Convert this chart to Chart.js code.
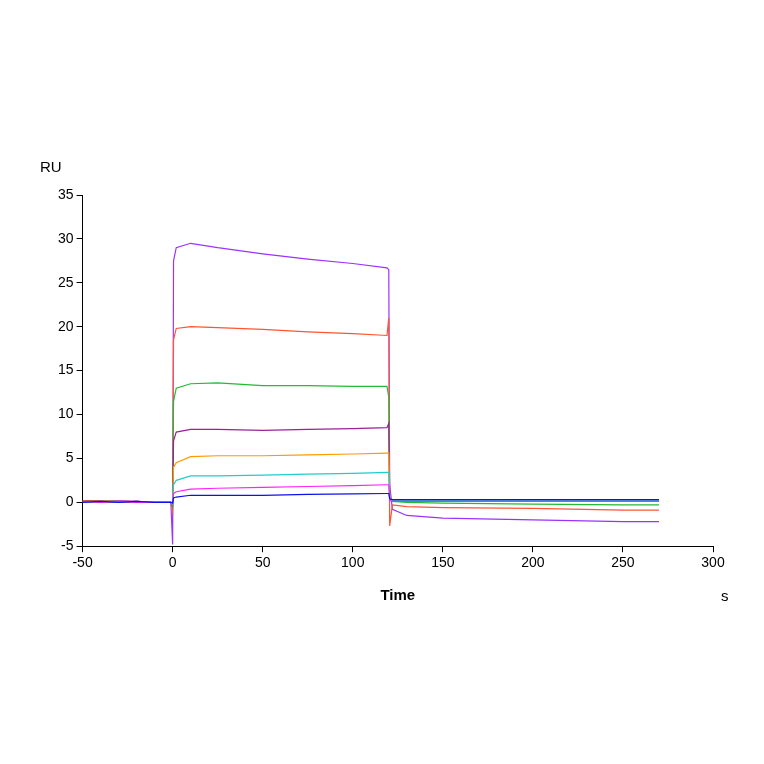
<!DOCTYPE html>
<html>
<head>
<script src="https://cdn.jsdelivr.net/npm/chart.js@4"></script>
<style>body{margin:0;background:#fff}#wrap{width:764px;height:764px}</style>
</head>
<body>
<div id="wrap"><canvas id="c"></canvas></div>
<script>
const times = [-50,-40,-30,-20,-10,-1,0,0.5,2,10,25,50,75,100,119,120,120.5,122,130,150,200,250,270];
const purple  = [0.2,0.1,0.2,0.1,0,0,-4.8,27.5,29,29.5,29.0,28.3,27.7,27.2,26.7,26.5,2,-0.8,-1.5,-1.8,-2.0,-2.2,-2.2];
const red     = [0.2,0.2,0.1,0.1,0,0,-1,18.5,19.8,20.0,19.9,19.7,19.4,19.2,19.0,21,-2.7,-0.3,-0.5,-0.6,-0.7,-0.9,-0.9];
const green   = [0.1,0.1,0.1,0,0,0,-0.5,11.5,13.0,13.5,13.6,13.3,13.3,13.2,13.2,12,0.5,0.1,0,-0.1,-0.2,-0.3,-0.3];
const violet  = [0.1,0.1,0,0.1,0,0,-0.3,7,8.0,8.3,8.3,8.2,8.3,8.4,8.5,9,0.3,0.2,0.2,0.2,0.2,0.2,0.2];
const orange  = [0.1,0,0.1,0,0,0,-0.2,4,4.5,5.2,5.3,5.3,5.4,5.5,5.6,5.6,0.4,0.3,0.3,0.3,0.3,0.3,0.3];
const cyan    = [0,0.1,0,0.1,0,0,-0.2,2,2.5,3.0,3.0,3.1,3.2,3.3,3.4,3.4,0.3,0.2,0.2,0.2,0.2,0.2,0.2];
const magenta = [0.1,0,0.1,0,0,0,-0.1,1,1.2,1.5,1.6,1.7,1.8,1.9,2.0,2.0,0.2,0.1,0.1,0.1,0.1,0.1,0.1];
const blue    = [0,0.1,0,0.1,0,0,-0.1,0.5,0.6,0.8,0.8,0.8,0.9,0.95,1.0,1.0,0.4,0.3,0.3,0.3,0.3,0.3,0.3];
const yTicks = [-5,0,5,10,15,20,25,30,35];

function series(vals, color) {
    return {
        data: times.map((t, i) => ({ x: t, y: vals[i] })),
        borderColor: color, borderWidth: 1.2, pointRadius: 0, fill: false, tension: 0
    };
}

const extraLabels = {
    id: "extraLabels",
    afterDraw(chart) {
        const ctx = chart.ctx;
        ctx.save();
        ctx.fillStyle = "#000";
        ctx.font = "15px 'Liberation Sans', Arial";
        ctx.textAlign = "left";
        ctx.fillText("RU", 40, 172);
        ctx.fillText("s", 721, 601);
        ctx.restore();
    }
};

new Chart(document.getElementById("c"), {
    type: "line",
    data: {
        datasets: [
            series(blue, "#1010ee"), series(magenta, "#ff22ff"), series(cyan, "#22cccc"),
            series(orange, "#ff9900"), series(violet, "#992299"), series(green, "#22bb33"),
            series(red, "#ff5533"), series(purple, "#9933ff")
        ]
    },
    options: {
        responsive: true, maintainAspectRatio: false, animation: false,
        layout: { padding: { left: 55, right: 51, top: 195, bottom: 159 } },
        plugins: { legend: { display: false }, tooltip: { enabled: false } },
        scales: {
            x: {
                type: "linear", min: -50, max: 300,
                ticks: { stepSize: 50, color: "#000", font: { size: 14, family: "Liberation Sans" } },
                grid: { drawOnChartArea: false, drawTicks: true, tickLength: 6, color: "#000" },
                border: { color: "#000" },
                title: { display: true, text: "Time", color: "#000", padding: { top: 12, bottom: 0 }, font: { size: 15, weight: "bold", family: "Liberation Sans" } }
            },
            y: {
                min: -5, max: 35,
                afterBuildTicks: s => { s.ticks = yTicks.map(v => ({ value: v })); },
                ticks: { color: "#000", font: { size: 14, family: "Liberation Sans" } },
                grid: { drawOnChartArea: false, tickLength: 6, color: "#000" },
                border: { color: "#000" }
            }
        }
    },
    plugins: [extraLabels]
});
</script>
</body>
</html>
